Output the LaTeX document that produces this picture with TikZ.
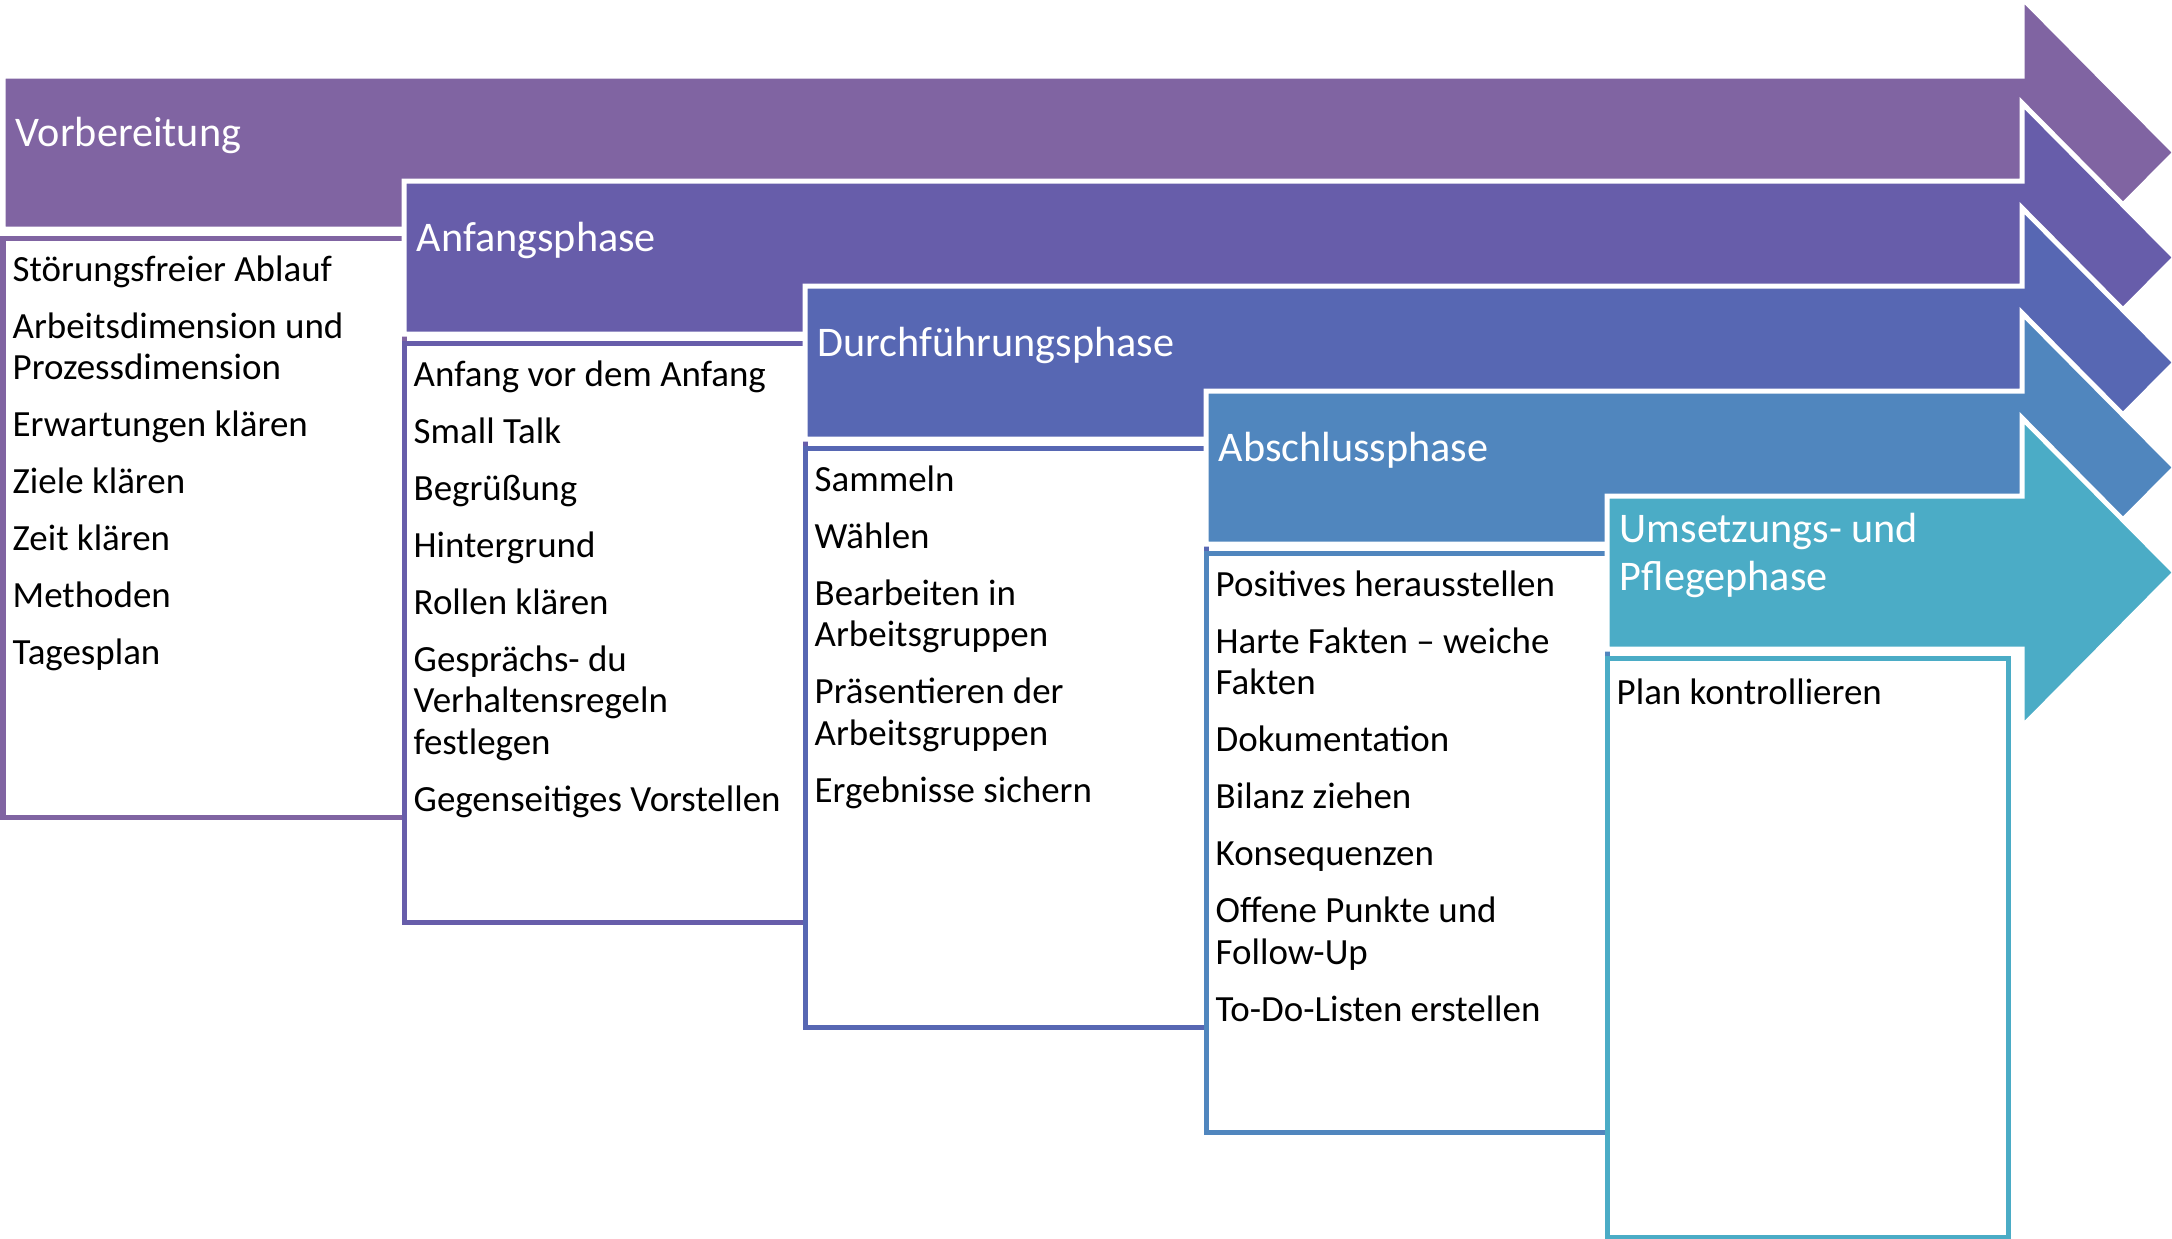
\documentclass[tikz,border=0pt]{standalone}
\usepackage{fontspec}
\setmainfont{Carlito}
\definecolor{phaseA}{HTML}{8064A2}
\definecolor{phaseB}{HTML}{675DAA}
\definecolor{phaseC}{HTML}{5767B3}
\definecolor{phaseD}{HTML}{5086BE}
\definecolor{phaseE}{HTML}{4BACC6}
\tikzset{
phasearrow/.style={draw=white, line width=0.05cm, line join=miter},
phasebox/.style={fill=white, line width=0.05cm},
phasetitle/.style={anchor=base west, inner sep=0pt, text=white, align=left,
  font=\fontsize{12}{13.4}\selectfont},
phaselist/.style={anchor=north west, inner sep=0pt, align=left,
  execute at begin node=\strut, font=\fontsize{10.5}{11.8}\selectfont}
}

\begin{document}
\begin{tikzpicture}[x=0.01cm, y=-0.01cm]
  \useasboundingbox (0,0) rectangle (2172,1239);

  % arrows and boxes, one step per phase
  \foreach \i/\col in {0/phaseA,1/phaseB,2/phaseC,3/phaseD,4/phaseE}{
    \pgfmathsetmacro\lx{3+401*\i}
    \pgfmathsetmacro\ty{76+105*\i}
    \draw[phasearrow, fill=\col] (\lx,\ty) -- (2022,\ty) -- (2022,\ty-78)
      -- (2175,\ty+76.5) -- (2022,\ty+231) -- (2022,\ty+153)
      -- (\lx,\ty+153) -- cycle;
    \draw[phasebox, draw=\col] (\lx,\ty+162) rectangle (\lx+401,\ty+741);
  }

  % titles
  \node[phasetitle] (vorb) at (15,146) {Vorbereitung};
  \node[phasetitle] (anf) at (416,251) {Anfangsphase};
  \node[phasetitle] (durch) at (817,356) {Durchführungsphase};
  \node[phasetitle] (absch) at (1218,461) {Abschlussphase};
  \node[phasetitle] (ums) at (1619,590) {Umsetzungs- und\\Pflegephase};

  % lists
  \node[phaselist] (lvorb) at (12,255) {Störungsfreier Ablauf\\[4.4pt]
    Arbeitsdimension und\\Prozessdimension\\[4.4pt]
    Erwartungen klären\\[4.4pt]
    Ziele klären\\[4.4pt]
    Zeit klären\\[4.4pt]
    Methoden\\[4.4pt]
    Tagesplan};
  \node[phaselist] (lanf) at (413,360) {Anfang vor dem Anfang\\[4.4pt]
    Small Talk\\[4.4pt]
    Begrüßung\\[4.4pt]
    Hintergrund\\[4.4pt]
    Rollen klären\\[4.4pt]
    Gesprächs- du\\Verhaltensregeln\\festlegen\\[4.4pt]
    Gegenseitiges Vorstellen};
  \node[phaselist] (ldurch) at (814,465) {Sammeln\\[4.4pt]
    Wählen\\[4.4pt]
    Bearbeiten in\\Arbeitsgruppen\\[4.4pt]
    Präsentieren der\\Arbeitsgruppen\\[4.4pt]
    Ergebnisse sichern};
  \node[phaselist] (labsch) at (1215,570) {Positives herausstellen\\[4.4pt]
    Harte Fakten – weiche\\Fakten\\[4.4pt]
    Dokumentation\\[4.4pt]
    Bilanz ziehen\\[4.4pt]
    Konsequenzen\\[4.4pt]
    Offene Punkte und\\Follow-Up\\[4.4pt]
    To-Do-Listen erstellen};
  \node[phaselist] (lums) at (1616,675) {Plan kontrollieren};
\end{tikzpicture}
\end{document}
